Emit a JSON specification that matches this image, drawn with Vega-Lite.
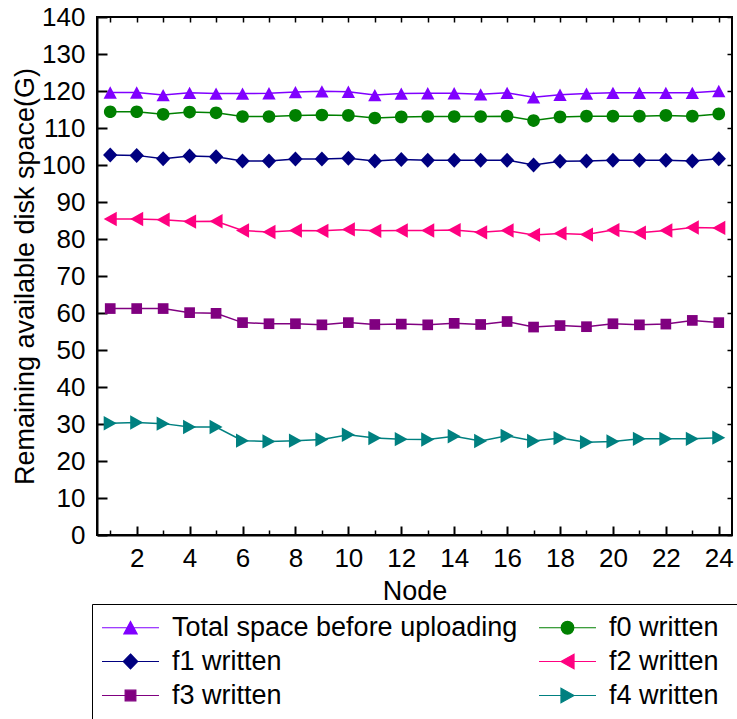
{
  "$schema": "https://vega.github.io/schema/vega-lite/v6.json",
  "width": 635,
  "height": 518,
  "autosize": {"type": "none"},
  "padding": {"left": 97, "top": 17, "right": 5, "bottom": 184},
  "background": "white",
  "config": {
    "view": {"stroke": "black", "strokeWidth": 2},
    "axis": {"grid": false, "labelFont": "Liberation Sans", "titleFont": "Liberation Sans", "labelColor": "black", "titleColor": "black", "tickColor": "black", "domainColor": "black", "labelFontSize": 26, "titleFontSize": 27, "titleFontWeight": "normal"},
    "legend": {"orient": "none", "legendX": -5, "legendY": 587, "columns": 2, "direction": "horizontal", "columnPadding": 18, "rowPadding": 6, "padding": 10, "strokeColor": "black", "strokeWidth": 1, "fillColor": "white", "labelFont": "Liberation Sans", "labelFontSize": 27, "labelColor": "black", "labelOffset": 28, "labelLimit": 600, "symbolSize": 170, "symbolOffset": 15, "symbolStrokeWidth": 1.2, "symbolOpacity": 1}
  },
  "data": {"values": [
    {"node": 1, "Total space before uploading": 119.6, "f0 written": 114.4, "f1 written": 102.7, "f2 written": 85.4, "f3 written": 61.2, "f4 written": 30.2},
    {"node": 2, "Total space before uploading": 119.6, "f0 written": 114.4, "f1 written": 102.6, "f2 written": 85.4, "f3 written": 61.2, "f4 written": 30.4},
    {"node": 3, "Total space before uploading": 118.9, "f0 written": 113.7, "f1 written": 101.7, "f2 written": 85.2, "f3 written": 61.2, "f4 written": 30.1},
    {"node": 4, "Total space before uploading": 119.5, "f0 written": 114.3, "f1 written": 102.4, "f2 written": 84.7, "f3 written": 60.1, "f4 written": 29.2},
    {"node": 5, "Total space before uploading": 119.3, "f0 written": 114.1, "f1 written": 102.2, "f2 written": 84.8, "f3 written": 59.9, "f4 written": 29.2},
    {"node": 6, "Total space before uploading": 119.3, "f0 written": 113.1, "f1 written": 101.1, "f2 written": 82.3, "f3 written": 57.4, "f4 written": 25.5},
    {"node": 7, "Total space before uploading": 119.4, "f0 written": 113.1, "f1 written": 101.1, "f2 written": 81.9, "f3 written": 57.1, "f4 written": 25.3},
    {"node": 8, "Total space before uploading": 119.7, "f0 written": 113.4, "f1 written": 101.6, "f2 written": 82.3, "f3 written": 57.1, "f4 written": 25.5},
    {"node": 9, "Total space before uploading": 119.9, "f0 written": 113.5, "f1 written": 101.6, "f2 written": 82.2, "f3 written": 56.8, "f4 written": 25.8},
    {"node": 10, "Total space before uploading": 119.8, "f0 written": 113.4, "f1 written": 101.8, "f2 written": 82.6, "f3 written": 57.4, "f4 written": 27.1},
    {"node": 11, "Total space before uploading": 118.9, "f0 written": 112.7, "f1 written": 101.1, "f2 written": 82.2, "f3 written": 56.9, "f4 written": 26.2},
    {"node": 12, "Total space before uploading": 119.3, "f0 written": 113.0, "f1 written": 101.5, "f2 written": 82.3, "f3 written": 57.0, "f4 written": 25.9},
    {"node": 13, "Total space before uploading": 119.4, "f0 written": 113.1, "f1 written": 101.3, "f2 written": 82.3, "f3 written": 56.8, "f4 written": 25.8},
    {"node": 14, "Total space before uploading": 119.4, "f0 written": 113.1, "f1 written": 101.3, "f2 written": 82.4, "f3 written": 57.2, "f4 written": 26.7},
    {"node": 15, "Total space before uploading": 119.1, "f0 written": 113.1, "f1 written": 101.3, "f2 written": 81.8, "f3 written": 56.9, "f4 written": 25.4},
    {"node": 16, "Total space before uploading": 119.5, "f0 written": 113.2, "f1 written": 101.3, "f2 written": 82.3, "f3 written": 57.7, "f4 written": 26.8},
    {"node": 17, "Total space before uploading": 118.3, "f0 written": 112.0, "f1 written": 100.0, "f2 written": 81.1, "f3 written": 56.2, "f4 written": 25.4},
    {"node": 18, "Total space before uploading": 119.0, "f0 written": 113.0, "f1 written": 101.0, "f2 written": 81.5, "f3 written": 56.6, "f4 written": 26.2},
    {"node": 19, "Total space before uploading": 119.3, "f0 written": 113.2, "f1 written": 101.1, "f2 written": 81.2, "f3 written": 56.3, "f4 written": 25.1},
    {"node": 20, "Total space before uploading": 119.5, "f0 written": 113.2, "f1 written": 101.3, "f2 written": 82.4, "f3 written": 57.1, "f4 written": 25.3},
    {"node": 21, "Total space before uploading": 119.5, "f0 written": 113.2, "f1 written": 101.3, "f2 written": 81.7, "f3 written": 56.8, "f4 written": 26.0},
    {"node": 22, "Total space before uploading": 119.5, "f0 written": 113.4, "f1 written": 101.3, "f2 written": 82.3, "f3 written": 57.0, "f4 written": 26.0},
    {"node": 23, "Total space before uploading": 119.5, "f0 written": 113.2, "f1 written": 101.1, "f2 written": 83.1, "f3 written": 58.0, "f4 written": 26.0},
    {"node": 24, "Total space before uploading": 120.0, "f0 written": 113.8, "f1 written": 101.7, "f2 written": 83.0, "f3 written": 57.4, "f4 written": 26.3}
  ]},
  "transform": [{"fold": ["Total space before uploading", "f0 written", "f1 written", "f2 written", "f3 written", "f4 written"], "as": ["series", "value"]}],
  "layer": [
    {
      "mark": {"type": "line", "strokeWidth": 1.5},
      "encoding": {
        "x": {"field": "node", "type": "quantitative", "scale": {"domain": [0.5, 24.5], "nice": false, "zero": false},
          "axis": {"orient": "bottom", "values": [2, 4, 6, 8, 10, 12, 14, 16, 18, 20, 22, 24], "tickSize": -9, "tickWidth": 2, "domainWidth": 2, "labelPadding": 19, "labelFlush": false, "labelOverlap": false, "title": "Node", "titlePadding": 7}},
        "y": {"field": "value", "type": "quantitative", "scale": {"domain": [0, 140], "nice": false},
          "axis": {"orient": "left", "values": [0, 10, 20, 30, 40, 50, 60, 70, 80, 90, 100, 110, 120, 130, 140], "tickSize": -10, "tickWidth": 2, "domainWidth": 2, "labelPadding": 22, "labelFlush": false, "labelOverlap": false, "title": "Remaining available disk space(G)", "titlePadding": 2}},
        "stroke": {"field": "series", "type": "nominal", "legend": {"title": null},
          "scale": {"domain": ["Total space before uploading", "f0 written", "f1 written", "f2 written", "f3 written", "f4 written"], "range": ["#8000FF", "#008000", "#000080", "#FF0080", "#800080", "#008080"]}}
      }
    },
    {
      "transform": [{"filter": {"field": "series", "equal": "Total space before uploading"}}],
      "mark": {"type": "point", "filled": true, "size": 170, "opacity": 1, "shape": "M0,-0.95L1.02,0.95L-1.02,0.95Z"},
      "encoding": {
        "x": {"field": "node", "type": "quantitative", "scale": {"domain": [0.5, 24.5], "nice": false, "zero": false},
          "axis": {"orient": "bottom", "values": [1, 3, 5, 7, 9, 11, 13, 15, 17, 19, 21, 23], "tickSize": -5, "tickWidth": 1.5, "labels": false, "domain": false, "title": null}},
        "y": {"field": "value", "type": "quantitative", "scale": {"domain": [0, 140], "nice": false},
          "axis": {"orient": "right", "values": [0, 10, 20, 30, 40, 50, 60, 70, 80, 90, 100, 110, 120, 130, 140], "tickSize": -5, "tickWidth": 1.5, "labels": false, "domain": false, "title": null}},
        "fill": {"field": "series", "type": "nominal", "legend": {"title": null},
          "scale": {"domain": ["Total space before uploading", "f0 written", "f1 written", "f2 written", "f3 written", "f4 written"], "range": ["#8000FF", "#008000", "#000080", "#FF0080", "#800080", "#008080"]}}
      }
    },
    {
      "transform": [{"filter": {"field": "series", "equal": "f0 written"}}],
      "mark": {"type": "point", "filled": true, "size": 170, "opacity": 1, "shape": "M-0.97,0A0.97,0.97 0 1,0 0.97,0A0.97,0.97 0 1,0 -0.97,0Z"},
      "encoding": {
        "x": {"field": "node", "type": "quantitative", "axis": null},
        "y": {"field": "value", "type": "quantitative", "axis": null},
        "fill": {"field": "series", "type": "nominal", "legend": {"title": null}}
      }
    },
    {
      "transform": [{"filter": {"field": "series", "equal": "f1 written"}}],
      "mark": {"type": "point", "filled": true, "size": 170, "opacity": 1, "shape": "M0,-1.15L1.1,0L0,1.15L-1.1,0Z"},
      "encoding": {
        "x": {"field": "node", "type": "quantitative", "axis": null},
        "y": {"field": "value", "type": "quantitative", "axis": null},
        "fill": {"field": "series", "type": "nominal", "legend": {"title": null}}
      }
    },
    {
      "transform": [{"filter": {"field": "series", "equal": "f2 written"}}],
      "mark": {"type": "point", "filled": true, "size": 170, "opacity": 1, "shape": "M-1,0L1,-1.1L1,1.1Z"},
      "encoding": {
        "x": {"field": "node", "type": "quantitative", "axis": null},
        "y": {"field": "value", "type": "quantitative", "axis": null},
        "fill": {"field": "series", "type": "nominal", "legend": {"title": null}}
      }
    },
    {
      "transform": [{"filter": {"field": "series", "equal": "f3 written"}}],
      "mark": {"type": "point", "filled": true, "size": 170, "opacity": 1, "shape": "M-0.82,-0.82H0.82V0.82H-0.82Z"},
      "encoding": {
        "x": {"field": "node", "type": "quantitative", "axis": null},
        "y": {"field": "value", "type": "quantitative", "axis": null},
        "fill": {"field": "series", "type": "nominal", "legend": {"title": null}}
      }
    },
    {
      "transform": [{"filter": {"field": "series", "equal": "f4 written"}}],
      "mark": {"type": "point", "filled": true, "size": 170, "opacity": 1, "shape": "M1,0L-1,-1.1L-1,1.1Z"},
      "encoding": {
        "x": {"field": "node", "type": "quantitative", "axis": null},
        "y": {"field": "value", "type": "quantitative", "axis": null},
        "fill": {"field": "series", "type": "nominal", "legend": {"title": null}}
      }
    },
    {
      "mark": {"type": "point", "filled": true, "size": 170, "opacity": 0},
      "encoding": {
        "x": {"field": "node", "type": "quantitative",
          "axis": {"orient": "top", "values": [1, 2, 3, 4, 5, 6, 7, 8, 9, 10, 11, 12, 13, 14, 15, 16, 17, 18, 19, 20, 21, 22, 23, 24], "tickSize": -5, "tickWidth": 1.5, "labels": false, "domain": false, "title": null}},
        "y": {"field": "value", "type": "quantitative", "axis": null},
        "fill": {"field": "series", "type": "nominal", "legend": {"title": null}},
        "stroke": {"field": "series", "type": "nominal", "legend": {"title": null}},
        "shape": {"field": "series", "type": "nominal", "legend": {"title": null},
          "scale": {"domain": ["Total space before uploading", "f0 written", "f1 written", "f2 written", "f3 written", "f4 written"], "range": ["M-4.37,0H4.37M0,-0.95L1.02,0.95L-1.02,0.95Z", "M-4.37,0H4.37M-0.97,0A0.97,0.97 0 1,0 0.97,0A0.97,0.97 0 1,0 -0.97,0ZM24.5,0Z", "M-4.37,0H4.37M0,-1.15L1.1,0L0,1.15L-1.1,0Z", "M-4.37,0H4.37M-1,0L1,-1.1L1,1.1ZM24.5,0Z", "M-4.37,0H4.37M-0.82,-0.82H0.82V0.82H-0.82Z", "M-4.37,0H4.37M1,0L-1,-1.1L-1,1.1ZM24.5,0Z"]}}
      }
    }
  ],
  "resolve": {"axis": {"x": "independent", "y": "independent"}}
}
